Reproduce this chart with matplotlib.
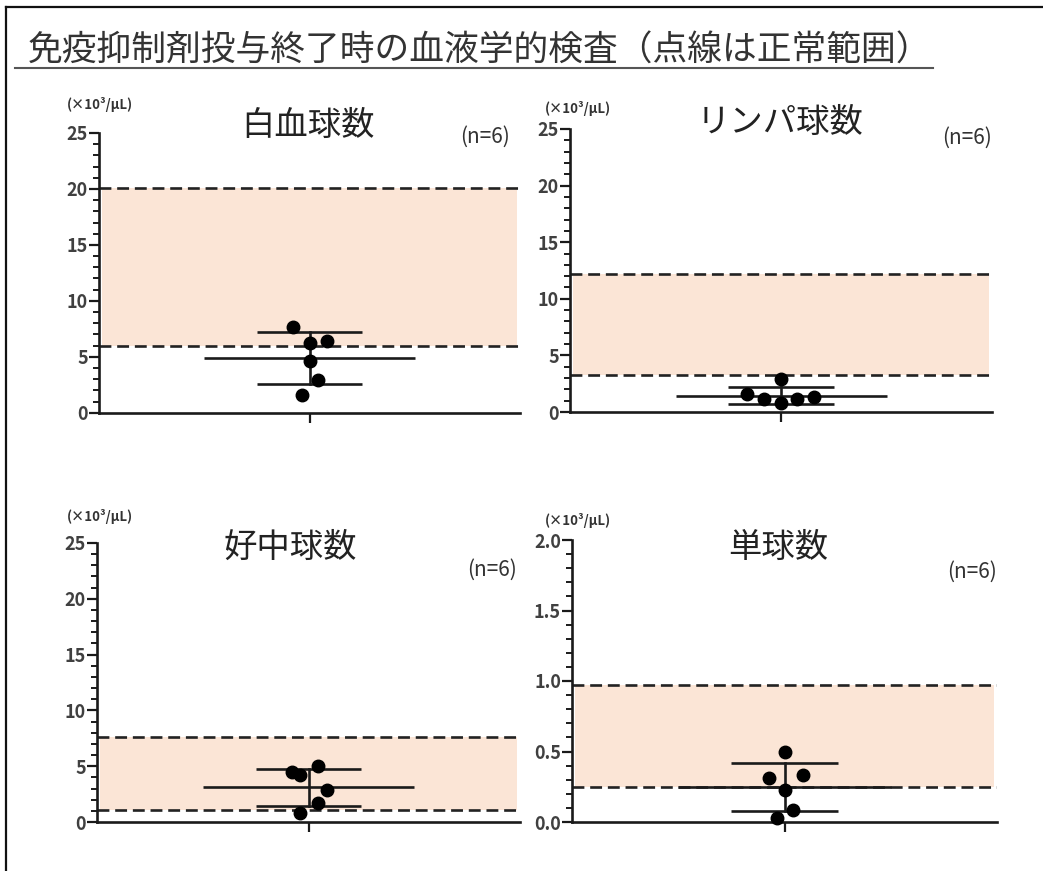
import matplotlib
matplotlib.use("Agg")
import matplotlib.pyplot as plt
from matplotlib.lines import Line2D

plt.rcParams['font.family'] = ['Noto Sans CJK JP', 'DejaVu Sans']

W, H = 1043, 871

main_title = "免疫抑制剤投与終了時の血液学的検査（点線は正常範囲）"
unit_label = "(×10³/μL)"
n_label = "(n=6)"

panel_titles = ["白血球数", "リンパ球数", "好中球数", "単球数"]

# individual values (x10^3/uL)
wbc_values = [7.65, 6.4, 6.2, 4.6, 2.9, 1.6]
lym_values = [2.9, 1.6, 1.15, 0.8, 1.15, 1.3]
neu_values = [4.5, 4.2, 5.0, 2.85, 1.7, 0.8]
mon_values = [0.50, 0.31, 0.33, 0.23, 0.085, 0.03]

# horizontal jitter of each point (scatter spread)
wbc_jitter = [-0.08, 0.085, 0.0, 0.0, 0.04, -0.035]
lym_jitter = [0.0, -0.16, -0.08, 0.0, 0.077, 0.157]
neu_jitter = [-0.076, -0.038, 0.043, 0.086, 0.043, -0.038]
mon_jitter = [0.0, -0.075, 0.085, 0.0, 0.04, -0.035]

# mean and SD bars
means = [4.9, 1.45, 3.1, 0.25]
sd_hi = [7.2, 2.2, 4.75, 0.42]
sd_lo = [2.55, 0.72, 1.45, 0.075]

# normal ranges
normal_lo = [6.0, 3.25, 1.1, 0.25]
normal_hi = [20.1, 12.2, 7.6, 0.97]

y_max = [25, 25, 25, 2.0]
y_major = [[0, 5, 10, 15, 20, 25]] * 3 + [[0.0, 0.5, 1.0, 1.5, 2.0]]
y_minor_step = [1, 1, 1, 0.1]
y_ticklabels = [["0", "5", "10", "15", "20", "25"]] * 3 + [["0.0", "0.5", "1.0", "1.5", "2.0"]]

values = [wbc_values, lym_values, neu_values, mon_values]
jitters = [wbc_jitter, lym_jitter, neu_jitter, mon_jitter]

# layout in pixels: (left, right, top, bottom)
axes_px = [(99, 520, 133, 412.7), (570, 992, 129, 412), (97, 520, 543, 822), (572, 997, 540, 822)]
title_px = [(308, 125), (780, 122), (290, 547), (778, 547)]
n_px = [(485, 137), (967, 138), (492, 570), (972, 572)]
unit_px = [(67, 105), (545, 108), (67, 517), (545, 520)]

fill_color = "#FBE5D6"
ink = "#1a1a1a"
tick_color = "#404040"

fig = plt.figure(figsize=(W / 100, H / 100), dpi=100)

def fx(x):
    return x / W

def fy(y):
    return 1 - y / H

# frame lines (top and left)
fig.add_artist(Line2D([fx(6), fx(W + 5)], [fy(7), fy(7)], color="#111111", lw=1.6))
fig.add_artist(Line2D([fx(6), fx(6)], [fy(7), fy(H + 5)], color="#111111", lw=1.6))

# main title with underline
fig.text(fx(28), fy(51), main_title, fontsize=25, color="#333333", ha="left", va="center")
fig.add_artist(Line2D([fx(15), fx(933)], [fy(68), fy(68)], color="#555555", lw=1.5))

for i in range(4):
    l, r, t, b = axes_px[i]
    ax = fig.add_axes([fx(l), fy(b), (r - l) / W, (b - t) / H])
    ax.set_xlim(-1, 1)
    ax.set_ylim(0, y_max[i])

    # normal range
    ax.fill_between([-0.985, 0.985], normal_lo[i], normal_hi[i], color=fill_color, lw=0, zorder=1)
    for yv in (normal_lo[i], normal_hi[i]):
        ax.axhline(yv, color="#222222", lw=1.9, linestyle=(0, (4.5, 2.2)), zorder=2)

    # points
    ax.plot(jitters[i], values[i], "o", color="black", ms=9, zorder=4, clip_on=False)

    # mean and SD
    ax.plot([-0.5, 0.5], [means[i], means[i]], color=ink, lw=1.9, zorder=3, solid_capstyle="butt")
    ax.plot([-0.25, 0.25], [sd_hi[i], sd_hi[i]], color=ink, lw=1.9, zorder=3, solid_capstyle="butt")
    ax.plot([-0.25, 0.25], [sd_lo[i], sd_lo[i]], color=ink, lw=1.9, zorder=3, solid_capstyle="butt")
    ax.plot([0, 0], [sd_lo[i], sd_hi[i]], color=ink, lw=1.9, zorder=3)

    # spines
    for s in ("top", "right"):
        ax.spines[s].set_visible(False)
    for s in ("left", "bottom"):
        ax.spines[s].set_linewidth(1.9)
        ax.spines[s].set_color(ink)

    ax.set_xticks([0])
    ax.set_xticklabels([""])
    ax.tick_params(axis="x", length=7, width=1.6, color=ink)
    ax.set_yticks(y_major[i])
    ax.set_yticklabels(y_ticklabels[i])
    step = y_minor_step[i]
    n_minor = int(round(y_max[i] / step))
    ax.set_yticks([k * step for k in range(n_minor + 1)], minor=True)
    ax.tick_params(axis="y", which="major", length=7, width=1.6, color=ink,
                   labelsize=13, labelcolor=tick_color, pad=1)
    ax.tick_params(axis="y", which="minor", length=4, width=1.4, color=ink)
    for lab in ax.get_yticklabels():
        lab.set_fontweight("bold")
    ax.patch.set_alpha(0)

    tx, ty = title_px[i]
    fig.text(fx(tx), fy(ty), panel_titles[i], fontsize=24, color="#222222", ha="center", va="center")
    nx, ny = n_px[i]
    fig.text(fx(nx), fy(ny), n_label, fontsize=15, color="#333333", ha="center", va="center")
    ux, uy = unit_px[i]
    fig.text(fx(ux), fy(uy), unit_label, fontsize=9.5, color="#333333", ha="left", va="center",
             fontweight="bold")

fig.savefig("out.png", dpi=100, facecolor="white")
